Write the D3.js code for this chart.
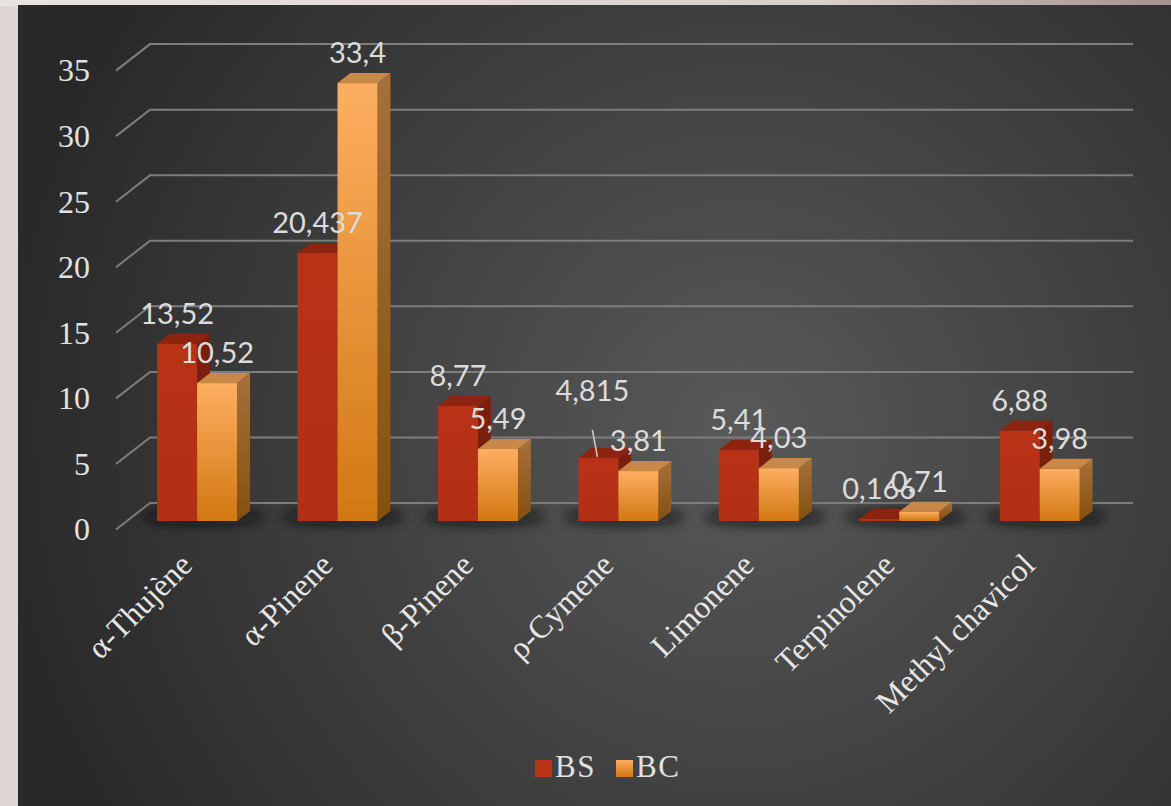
<!DOCTYPE html>
<html><head><meta charset="utf-8">
<script src="https://cdn.jsdelivr.net/npm/d3@7"></script>
<style>
html,body{margin:0;padding:0;background:#ddd6d2;overflow:hidden}
svg{display:block}
</style></head>
<body>
<svg id="chart" width="1171" height="806"></svg>
<script>
const categories = ["α-Thujène","α-Pinene","β-Pinene","ρ-Cymene","Limonene","Terpinolene","Methyl chavicol"];
const seriesNames = ["BS","BC"];
const valuesBS = [13.52, 20.437, 8.77, 4.815, 5.41, 0.166, 6.88];
const valuesBC = [10.52, 33.4, 5.49, 3.81, 4.03, 0.71, 3.98];
const labelsBS = ["13,52","20,437","8,77","4,815","5,41","0,166","6,88"];
const labelsBC = ["10,52","33,4","5,49","3,81","4,03","0,71","3,98"];
const yTicks = [0,5,10,15,20,25,30,35];

const svg = d3.select("#chart");
const W = 1171, H = 806;
const defs = svg.append("defs");
const serif = "'Liberation Serif','Times New Roman',Times,serif";

// frame
const tg = defs.append("linearGradient").attr("id","topstrip").attr("x1",0).attr("x2",1).attr("y1",0).attr("y2",0);
tg.append("stop").attr("offset","0%").attr("stop-color","#e9e4e1");
tg.append("stop").attr("offset","70%").attr("stop-color","#d9cfcb");
tg.append("stop").attr("offset","100%").attr("stop-color","#a6928d");
svg.append("rect").attr("x",0).attr("y",0).attr("width",W).attr("height",6).attr("fill","url(#topstrip)");

// background
const rg = defs.append("radialGradient").attr("id","bg").attr("gradientUnits","userSpaceOnUse")
  .attr("cx",740).attr("cy",430).attr("r",760);
rg.append("stop").attr("offset","0%").attr("stop-color","#595959");
rg.append("stop").attr("offset","55%").attr("stop-color","#3e3e3e");
rg.append("stop").attr("offset","100%").attr("stop-color","#282828");
svg.append("rect").attr("x",18).attr("y",5).attr("width",W-18).attr("height",H-5).attr("fill","url(#bg)");

// bar gradients
const gBCf = defs.append("linearGradient").attr("id","bcFront").attr("x1",0).attr("x2",0).attr("y1",0).attr("y2",1);
gBCf.append("stop").attr("offset","0%").attr("stop-color","#fdae60");
gBCf.append("stop").attr("offset","100%").attr("stop-color","#d27812");
const gBCs = defs.append("linearGradient").attr("id","bcSide").attr("x1",0).attr("x2",0).attr("y1",0).attr("y2",1);
gBCs.append("stop").attr("offset","0%").attr("stop-color","#a8703a");
gBCs.append("stop").attr("offset","100%").attr("stop-color","#84500f");
const gBSf = defs.append("linearGradient").attr("id","bsFront").attr("x1",0).attr("x2",0).attr("y1",0).attr("y2",1);
gBSf.append("stop").attr("offset","0%").attr("stop-color","#b83216");
gBSf.append("stop").attr("offset","100%").attr("stop-color","#b23015");
const blur = defs.append("filter").attr("id","blur").attr("x","-20%").attr("y","-200%").attr("width","140%").attr("height","500%");
blur.append("feGaussianBlur").attr("stdDeviation",6);

// projection
const DX = 34, DY = 26.5;
const floorFrontX0 = 116, floorFrontX1 = 1099;
const y0 = 529.5;
const x = d3.scaleBand().domain(categories).range([floorFrontX0, floorFrontX1]).paddingInner(0).paddingOuter(0);
const yv = d3.scaleLinear().domain([0,35]).range([0, 458.9]);
const P = (px, val, z) => [px + z*DX, y0 - yv(val) - z*DY];

// gridlines
const grid = svg.append("g");
yTicks.forEach(t => {
  const a = P(floorFrontX0, t, 0), b = P(floorFrontX0, t, 1), c = P(floorFrontX1, t, 1);
  grid.append("path").attr("d", `M${a[0]},${a[1]}L${b[0]},${b[1]}L${c[0]},${c[1]}`)
    .attr("fill","none").attr("stroke","#7e7e7e").attr("stroke-width",2);
});

// y tick labels
svg.append("g").selectAll("text").data(yTicks).join("text")
  .attr("x", 90).attr("y", d => P(floorFrontX0, d, 0)[1])
  .attr("dy","0.34em").attr("text-anchor","end")
  .style("font-family", serif).style("font-size","32px")
  .attr("fill","#e2e2e2").text(d => d);

// floor shadow
const zF = 0.32, zB = 0.70, barW = 40;
svg.append("g").selectAll("ellipse").data(categories).join("ellipse")
  .attr("cx", d => x(d) + x.bandwidth()/2 + 0.5*DX)
  .attr("cy", d => y0 - 0.55*DY + 2)
  .attr("rx", 60).attr("ry", 8).attr("fill","#101010").attr("opacity",0.75).attr("filter","url(#blur)");

// bars
const bars = svg.append("g");
function drawBar(cat, val, off, front, top, side) {
  const bx = x(cat) + x.bandwidth()/2 + off;
  const f0 = P(bx, val, zF), f1 = P(bx+barW, val, zF), fb = P(bx, 0, zF);
  const t0 = P(bx, val, zB), t1 = P(bx+barW, val, zB), sb = P(bx+barW, 0, zB), sb0 = P(bx+barW, 0, zF);
  const g = bars.append("g");
  g.append("path").attr("d", `M${sb0[0]},${sb0[1]}L${f1[0]},${f1[1]}L${t1[0]},${t1[1]}L${sb[0]},${sb[1]}Z`).attr("fill", side);
  g.append("path").attr("d", `M${f0[0]},${f0[1]}L${t0[0]},${t0[1]}L${t1[0]},${t1[1]}L${f1[0]},${f1[1]}Z`).attr("fill", top);
  g.append("rect").attr("x", f0[0]).attr("y", f0[1]).attr("width", barW).attr("height", Math.max(0.5, fb[1]-f0[1])).attr("fill", front);
}
categories.forEach((c,i) => {
  drawBar(c, valuesBS[i], -barW, "url(#bsFront)", "#8c2410", "#7a1f0e");
  drawBar(c, valuesBC[i], 0, "url(#bcFront)", "#c88848", "url(#bcSide)");
});

// value labels
const vl = svg.append("g").style("font-family","Lato,'Open Sans',sans-serif").style("font-size","29px").attr("fill","#dcdcdc").attr("text-anchor","middle");
const labelLift = {3: 37};
categories.forEach((c,i) => {
  [[valuesBS[i], labelsBS[i], -barW, 0],[valuesBC[i], labelsBC[i], 0, 1]].forEach(([v, lab, off, s]) => {
    const cx = x(c) + x.bandwidth()/2 + off + barW/2;
    const top = P(cx, v, zF);
    const lift = (s === 0 && labelLift[i]) ? labelLift[i] : 0;
    vl.append("text").attr("x", top[0] - (lift ? 6 : 0)).attr("y", top[1] - 20 - lift).text(lab);
    if (lift) {
      svg.append("line").attr("x1", top[0]-6).attr("y1", top[1]-28).attr("x2", top[0]-1).attr("y2", top[1]-1)
        .attr("stroke","#d0d0d0").attr("stroke-width",1.5);
    }
  });
});

// category labels
svg.append("g").selectAll("text").data(categories).join("text")
  .attr("transform", d => { const p = P(x(d)+x.bandwidth()/2, 0, 0.32); return `translate(${p[0]-3},${p[1]+46}) rotate(-45)`; })
  .attr("text-anchor","end")
  .style("font-family", serif).style("font-size","32px")
  .attr("fill","#e6e6e6").text(d => d);

// legend
const legend = svg.append("g").style("font-family", serif).style("font-size","31px").style("letter-spacing","1.5px").attr("fill","#e2e2e2");
const legItems = [{name: seriesNames[0], fill: "#b83216", x: 535}, {name: seriesNames[1], fill: "url(#bcFront)", x: 616}];
legItems.forEach(it => {
  legend.append("rect").attr("x", it.x).attr("y", 760).attr("width",17).attr("height",17).attr("fill", it.fill);
  legend.append("text").attr("x", it.x+20).attr("y", 777).text(it.name);
});
</script>
</body></html>
